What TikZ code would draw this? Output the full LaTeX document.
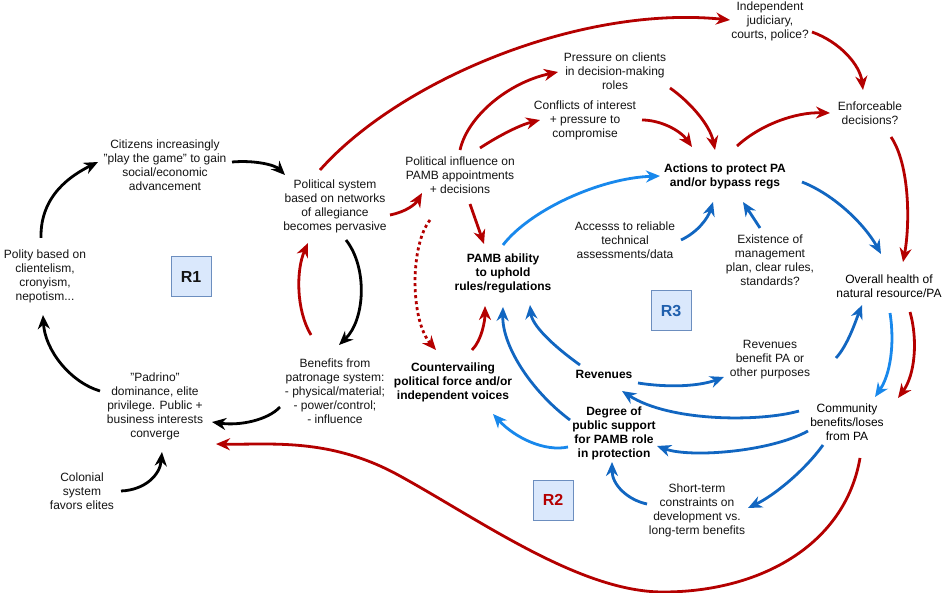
\documentclass[tikz,border=0pt]{standalone}
\usepackage{fontspec}
\setmainfont{Liberation Sans}
\usetikzlibrary{arrows.meta,calc}
\definecolor{myred}{RGB}{180,0,0}
\definecolor{lblue}{RGB}{24,136,236}
\definecolor{dblue}{RGB}{17,102,193}
\definecolor{boxfill}{RGB}{218,232,252}
\definecolor{boxline}{RGB}{108,142,191}
\definecolor{txt}{RGB}{20,20,20}
\definecolor{rthree}{RGB}{31,95,173}
\begin{document}
\begin{tikzpicture}[x=1pt,y=-1pt,
  lbl/.style={align=center,inner sep=0pt,font=\fontsize{12}{14}\selectfont,text=txt},
  blbl/.style={align=center,inner sep=0pt,font=\fontsize{12}{14}\selectfont\bfseries,text=black},
  loopbox/.style={draw=boxline,fill=boxfill,line width=1pt,minimum width=40pt,minimum height=40pt,inner sep=0pt,font=\fontsize{16}{18}\selectfont\bfseries},
  conn/.style={line width=2.8pt,-{Stealth[length=14pt,width=12pt,inset=4.5pt]}},
  kconn/.style={conn,draw=black},
  rconn/.style={conn,draw=myred},
  dconn/.style={conn,draw=dblue},
  lconn/.style={conn,draw=lblue}]
\useasboundingbox[fill=white] (0,0) rectangle (950,593);

% nodes
\node[lbl] (citizens) at (165,165) {Citizens increasingly\\"play the game" to gain\\social/economic\\advancement};
\node[lbl] (polity) at (45,276) {Polity based on\\clientelism,\\cronyism,\\nepotism...};
\node[lbl] (padrino) at (155,406) {"Padrino"\\dominance, elite\\privilege. Public +\\business interests\\converge};
\node[lbl] (colonial) at (82,491) {Colonial\\system\\favors elites};
\node[lbl] (polsys) at (335,206) {Political system\\based on networks\\of allegiance\\becomes pervasive};
\node[lbl] (benefits) at (335,391) {Benefits from\\patronage system:\\- physical/material;\\- power/control;\\- influence};
\node[lbl] (polinf) at (460,175) {Political influence on\\PAMB appointments\\+ decisions};
\node[blbl] (pamb) at (503,273) {PAMB ability\\to uphold\\rules/regulations};
\node[blbl] (counter) at (453,382) {Countervailing\\political force and/or\\independent voices};
\node[lbl] (pressure) at (615,71) {Pressure on clients\\in decision-making\\roles};
\node[lbl] (conflicts) at (585,120) {Conflicts of interest\\+ pressure to\\compromise};
\node[blbl] (actions) at (725,176) {Actions to protect PA\\and/or bypass regs};
\node[lbl] (judiciary) at (770,21) {Independent\\judiciary,\\courts, police?};
\node[lbl] (enforce) at (870,113) {Enforceable\\decisions?};
\node[lbl] (access) at (625,240) {Accesss to reliable\\technical\\assessments/data};
\node[lbl] (existence) at (770,260) {Existence of\\management\\plan, clear rules,\\standards?};
\node[lbl,text=black] (overall) at (889,286) {Overall health of\\natural resource/PA};
\node[lbl] (revben) at (770,360) {Revenues\\benefit PA or\\other purposes};
\node[blbl] (revenues) at (604,374) {Revenues};
\node[lbl,text=black] (community) at (847,422) {Community\\benefits/loses\\from PA};
\node[blbl] (degree) at (614,433) {Degree of\\public support\\for PAMB role\\in protection};
\node[lbl] (shortterm) at (697,510) {Short-term\\constraints on\\development vs.\\long-term benefits};
\node[loopbox,text=txt] (rone) at (191,277) {R1};
\node[loopbox,text=rthree] (rthreebox) at (671,311) {R3};
\node[loopbox,text=myred] (rtwo) at (553,500) {R2};

% black loop R1
\draw[kconn] ($(polity)+(-4,-38)$) .. controls (40,195) and (72,175) .. ($(citizens)+(-67,-3)$);
\draw[kconn] ($(citizens)+(67,-3)$) .. controls (255,160) and (275,165) .. ($(polsys)+(-50,-31)$);
\draw[kconn] ($(polsys)+(11,34)$) .. controls (368,268) and (365,320) .. ($(benefits)+(4,-46)$);
\draw[kconn] ($(benefits)+(-55,16)$) .. controls (268,420) and (240,426) .. ($(padrino)+(57,16)$);
\draw[kconn] ($(padrino)+(-55,-15)$) .. controls (70,382) and (45,350) .. ($(polity)+(-2,39)$);
\draw[kconn] ($(colonial)+(39,0)$) .. controls (145,490) and (160,475) .. ($(padrino)+(7,46)$);

% red
\draw[rconn] ($(benefits)+(-24,-56)$) .. controls (296,310) and (296,270) .. ($(polsys)+(-27,37)$);
\draw[rconn] ($(polsys)+(55,9)$) .. controls (405,212) and (415,205) .. ($(polinf)+(-38,18)$);
\draw[rconn] ($(polsys)+(-15,-36)$) .. controls (400,80) and (580,5) .. ($(judiciary)+(-40,-1)$);
\draw[rconn] ($(polinf)+(0,-25)$) .. controls (468,115) and (510,82) .. ($(pressure)+(-57,1)$);
\draw[rconn] ($(polinf)+(20,-27)$) .. controls (500,135) and (520,125) .. ($(conflicts)+(-45,0)$);
\draw[rconn] ($(pressure)+(55,17)$) .. controls (690,102) and (710,125) .. ($(actions)+(-10,-26)$);
\draw[rconn] ($(conflicts)+(57,0)$) .. controls (660,120) and (680,130) .. ($(actions)+(-33,-29)$);
\draw[rconn] ($(actions)+(12,-30)$) .. controls (760,125) and (795,112) .. ($(enforce)+(-40,0)$);
\draw[rconn] ($(judiciary)+(42,11)$) .. controls (840,42) and (860,65) .. ($(enforce)+(-7,-23)$);
\draw[rconn] ($(enforce)+(21,24)$) .. controls (910,165) and (910,225) .. ($(overall)+(14,-24)$);
\draw[rconn] ($(overall)+(21,26)$) .. controls (918,340) and (915,375) .. ($(community)+(51,-24)$);
\draw[rconn] ($(community)+(13,36)$) .. controls (845,545) and (760,592) .. (663,592)
   .. controls (580,592) and (480,520) .. (400,476)
   .. controls (330,437) and (270,445) .. ($(padrino)+(61,38)$);
\draw[rconn] ($(polinf)+(10,29)$) -- ($(pamb)+(-19,-29)$);
\draw[rconn,dash pattern=on 3pt off 3pt] ($(polinf)+(-30,45)$) .. controls (410,245) and (410,320) .. ($(counter)+(-17,-32)$);
\draw[rconn] ($(counter)+(19,-32)$) .. controls (482,340) and (485,320) .. ($(pamb)+(-18,33)$);

% blue
\draw[lconn] ($(pamb)+(0,-28)$) .. controls (530,210) and (600,178) .. ($(actions)+(-65,0)$);
\draw[dconn] ($(access)+(56,0)$) .. controls (698,232) and (708,218) .. ($(actions)+(-12,26)$);
\draw[dconn] ($(existence)+(-10,-32)$) -- ($(actions)+(18,26)$);
\draw[dconn] ($(actions)+(77,6)$) .. controls (835,195) and (865,225) .. ($(overall)+(-8,-32)$);
\draw[dconn] ($(revben)+(66,-2)$) .. controls (848,345) and (856,320) .. ($(overall)+(-27,19)$);
\draw[lconn] ($(overall)+(1,27)$) .. controls (895,345) and (890,375) .. ($(community)+(28,-25)$);
\draw[dconn] ($(revenues)+(34,9)$) .. controls (670,388) and (700,386) .. ($(revben)+(-46,17)$);
\draw[dconn] ($(community)+(-48,-11)$) .. controls (760,422) and (670,422) .. ($(revenues)+(18,17)$);
\draw[dconn] ($(community)+(-39,9)$) .. controls (770,452) and (690,458) .. ($(degree)+(43,13)$);
\draw[dconn] ($(community)+(-24,23)$) .. controls (805,470) and (775,495) .. ($(shortterm)+(51,-2)$);
\draw[dconn] ($(shortterm)+(-50,-6)$) .. controls (628,500) and (612,485) .. ($(degree)+(-2,29)$);
\draw[lconn] ($(degree)+(-46,14)$) .. controls (545,452) and (515,438) .. ($(counter)+(40,32)$);
\draw[dconn] ($(degree)+(-44,-13)$) .. controls (530,390) and (502,345) .. ($(pamb)+(0,34)$);
\draw[dconn] ($(revenues)+(-24,-9)$) .. controls (552,345) and (532,325) .. ($(pamb)+(27,32)$);
\end{tikzpicture}
\end{document}
